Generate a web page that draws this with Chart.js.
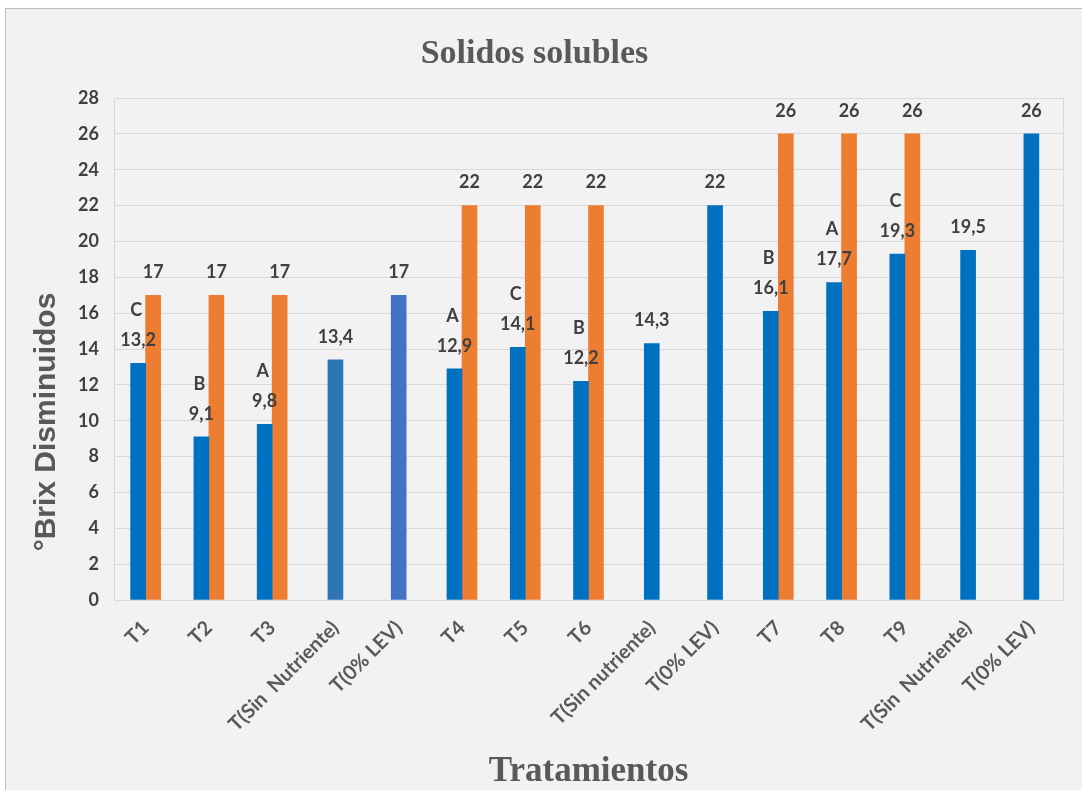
<!DOCTYPE html>
<html>
<head>
<meta charset="utf-8">
<script src="https://cdn.jsdelivr.net/npm/chart.js@4.4.0/dist/chart.umd.min.js"></script>
<style>
    body { margin: 0; background: #ffffff; overflow: hidden; }
    #marco {
        position: absolute; left: 5px; top: 8px;
        width: 1090px; height: 790px;
        border: 1px solid #bfbfbf; background: #f2f2f2;
    }
    canvas { display: block; }
</style>
</head>
<body>
<div id="marco"><canvas id="grafico" width="1080" height="782"></canvas></div>
<script>
const categorias = ['T1', 'T2', 'T3', 'T(Sin  Nutriente)', 'T(0% LEV)', 'T4', 'T5', 'T6', 'T(Sin nutriente)', 'T(0% LEV)', 'T7', 'T8', 'T9', 'T(Sin  Nutriente)', 'T(0% LEV)'];
const brixAzul = [13.2, 9.1, 9.8, 13.4, 17, 12.9, 14.1, 12.2, 14.3, 22, 16.1, 17.7, 19.3, 19.5, 26];
const brixNaranja = [17, 17, 17, null, null, 22, 22, 22, null, null, 26, 26, 26, null, null];
const letras = ['C', 'B', 'A', null, null, 'A', 'C', 'B', null, null, 'B', 'A', 'C', null, null];
const ejeMin = 0;
const ejeMax = 28;
const ejePaso = 2;

function loadPage() {
    const coloresAzul = categorias.map((c, i) => i == 3 ? '#2e75b6' : (i == 4 ? '#4472c4' : '#0070c0'));
    const fuenteNum = "'Lato', 'Liberation Sans', sans-serif";
    const fuenteTitulo = "'Liberation Serif', 'DejaVu Serif', serif";

    function formato(v) {
        return v.toString().replace('.', ',');
    }

    // etiquetas de valores y letras sobre las barras
    const etiquetas = {
        id: 'etiquetas',
        beforeDatasetsDraw(chart) {
            const ctx = chart.ctx;
            const a = chart.chartArea;
            ctx.save();
            ctx.strokeStyle = '#d9d9d9';
            ctx.lineWidth = 1;
            ctx.beginPath();
            ctx.moveTo(Math.round(a.right) + 0.5, a.top);
            ctx.lineTo(Math.round(a.right) + 0.5, a.bottom);
            ctx.stroke();
            ctx.restore();
        },
        afterDatasetsDraw(chart) {
            const ctx = chart.ctx;
            ctx.save();
            ctx.fillStyle = '#404040';
            ctx.font = "bold 18px " + fuenteNum;
            ctx.textAlign = 'center';
            ctx.textBaseline = 'middle';
            chart.data.datasets.forEach((ds, d) => {
                const meta = chart.getDatasetMeta(d);
                meta.data.forEach((barra, i) => {
                    const v = ds.data[i];
                    if (v === null) return;
                    ctx.fillText(formato(v), barra.x, barra.y - 23);
                    if (d == 0 && letras[i]) {
                        ctx.fillText(letras[i], barra.x - 2, barra.y - 53);
                    }
                });
            });
            // titulo del eje Y
            ctx.translate(41, 413);
            ctx.rotate(-Math.PI / 2);
            ctx.fillStyle = '#595959';
            ctx.font = "bold 30px 'Liberation Sans', sans-serif";
            ctx.fillText('°Brix Disminuidos', 0, 0);
            ctx.restore();
        }
    };

    const data = {
        labels: categorias,
        datasets: [
            {
                label: 'Brix 1',
                data: brixAzul,
                backgroundColor: coloresAzul,
                barThickness: 15,
                skipNull: true
            },
            {
                label: 'Brix 2',
                data: brixNaranja,
                backgroundColor: '#ed7d31',
                barThickness: 15,
                skipNull: true
            }
        ]
    };

    const config = {
        type: 'bar',
        data: data,
        options: {
            responsive: false,
            animation: false,
            layout: { padding: { left: 0, right: 23, top: 0, bottom: 0 } },
            plugins: {
                legend: { display: false },
                tooltip: { enabled: false },
                title: {
                    display: true,
                    text: 'Solidos solubles',
                    color: '#595959',
                    font: { family: fuenteTitulo, size: 34, weight: 'bold', lineHeight: 1.2 },
                    padding: { top: 25, bottom: 23.2 }
                }
            },
            scales: {
                x: {
                    grid: { display: false },
                    border: { color: '#d9d9d9' },
                    ticks: {
                        color: '#595959',
                        font: { family: fuenteNum, size: 20, weight: 'bold' },
                        minRotation: 45,
                        maxRotation: 45,
                        autoSkip: false,
                        padding: 8
                    },
                    title: {
                        display: true,
                        text: 'Tratamientos',
                        color: '#595959',
                        font: { family: fuenteTitulo, size: 35, weight: 'bold', lineHeight: 1.2 },
                        padding: { top: 0, bottom: -2 }
                    },
                    afterFit: s => { s.height = 191; }
                },
                y: {
                    min: ejeMin,
                    max: ejeMax,
                    grid: { color: '#d9d9d9', drawTicks: false },
                    border: { color: '#d9d9d9' },
                    ticks: {
                        stepSize: ejePaso,
                        color: '#404040',
                        font: { family: fuenteNum, size: 18, weight: 'bold' },
                        padding: 15
                    },
                    afterFit: s => { s.width = 108; }
                }
            }
        },
        plugins: [etiquetas]
    };

    new Chart(document.getElementById('grafico').getContext('2d'), config);
}
window.addEventListener("DOMContentLoaded", loadPage);
</script>
</body>
</html>
